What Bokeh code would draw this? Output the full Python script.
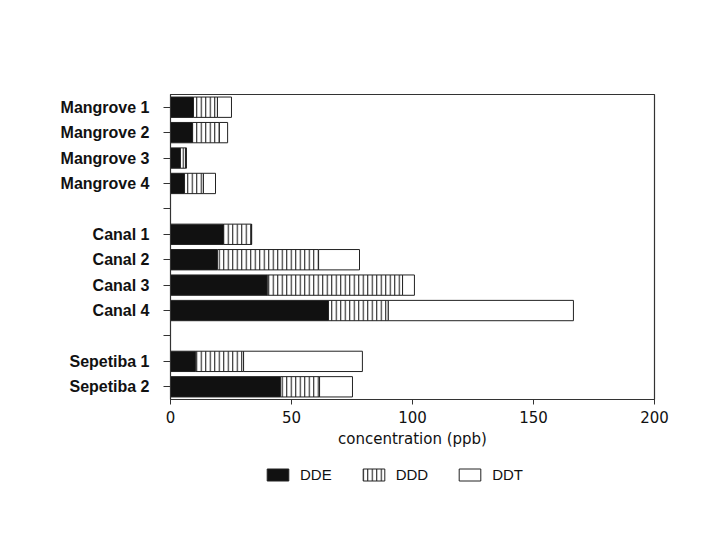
from bokeh.plotting import figure
from bokeh.layouts import column
from bokeh.models import FactorRange, Range1d, ColumnDataSource, FixedTicker, Legend, LegendItem
from bokeh.embed import file_html
from bokeh.resources import INLINE

# ---- data (ppb) ----
sites = ["Mangrove 1", "Mangrove 2", "Mangrove 3", "Mangrove 4",
         "Canal 1", "Canal 2", "Canal 3", "Canal 4",
         "Sepetiba 1", "Sepetiba 2"]
dde = [9.5, 9.1, 4.1, 5.8, 21.9, 19.4, 40.0, 65.3, 10.3, 45.5]
ddd = [9.9, 11.1, 2.1, 7.8, 11.6, 41.8, 55.9, 24.7, 19.9, 16.1]
ddt = [5.8, 3.4, 0.4, 5.0, 0.0, 16.9, 4.9, 76.5, 49.1, 13.6]
# axis order, top to bottom, with blank gap rows between the groups
row_order = ["Mangrove 1", "Mangrove 2", "Mangrove 3", "Mangrove 4", " ",
             "Canal 1", "Canal 2", "Canal 3", "Canal 4", "  ",
             "Sepetiba 1", "Sepetiba 2"]
x_ticks = [0, 50, 100, 150, 200]
series = ["DDE", "DDD", "DDT"]

source = ColumnDataSource(dict(site=sites, DDE=dde, DDD=ddd, DDT=ddt))

bar_style = dict(fill_color=["#111111", "white", "white"],
                 line_color="#222222", line_width=1,
                 hatch_pattern=[" ", "|", " "], hatch_color="#222222",
                 hatch_scale=4.5, hatch_weight=1.1)

p = figure(frame_width=484, frame_height=305,
           output_backend="svg", toolbar_location=None,
           y_range=FactorRange(*list(reversed(row_order)), range_padding=0),
           x_range=Range1d(0, 200),
           min_border_left=170, min_border_right=40, min_border_top=94,
           min_border_bottom=50)

p.hbar_stack(series, y="site", height=0.8, source=source, **bar_style)

p.xgrid.visible = False
p.ygrid.visible = False
p.outline_line_color = "#333333"
p.outline_line_width = 1.2
p.background_fill_color = "white"
p.border_fill_color = "white"

xa = p.xaxis[0]
xa.ticker = FixedTicker(ticks=x_ticks)
xa.axis_label = "concentration (ppb)"
xa.axis_label_text_font = "DejaVu Sans"
xa.axis_label_text_font_style = "normal"
xa.axis_label_text_font_size = "15px"
xa.axis_label_text_color = "#111111"
xa.axis_label_standoff = 4
xa.major_label_text_font = "DejaVu Sans"
xa.major_label_text_font_size = "15px"
xa.major_label_text_color = "#111111"
xa.major_label_standoff = 6
xa.major_tick_in = 0
xa.major_tick_out = 5
xa.minor_tick_line_color = None
xa.axis_line_color = "#333333"
xa.major_tick_line_color = "#333333"

ya = p.yaxis[0]
ya.major_label_text_font = "Liberation Sans"
ya.major_label_text_font_style = "bold"
ya.major_label_text_font_size = "16px"
ya.major_label_text_color = "#111111"
ya.major_label_standoff = 14
ya.major_tick_in = 0
ya.major_tick_out = 7
ya.axis_line_color = "#333333"
ya.major_tick_line_color = "#333333"

# ---- legend strip below the chart ----
lf = figure(width=694, height=60, output_backend="svg", toolbar_location=None,
            x_range=p.x_range, y_range=p.y_range,
            x_axis_location=None, y_axis_location=None,
            min_border=0, min_border_left=0, min_border_right=0,
            min_border_top=0, min_border_bottom=0)
lf.xgrid.visible = False
lf.ygrid.visible = False
lf.outline_line_color = None
lf.background_fill_color = "white"
lf.border_fill_color = "white"
leg_renderers = lf.hbar_stack(series, y="site", height=0.8, source=source, **bar_style)
for r in leg_renderers:
    r.visible = False

leg = Legend(items=[LegendItem(label=s, renderers=[r]) for s, r in zip(series, leg_renderers)],
             orientation="horizontal", location=(94, 27),
             border_line_color=None, background_fill_alpha=0,
             inactive_fill_alpha=0,
             glyph_width=27, glyph_height=15, label_standoff=9, spacing=28,
             padding=10, margin=0,
             label_text_font="Liberation Sans", label_text_font_size="15px",
             label_text_color="#111111")
lf.add_layout(leg, "center")

layout = column(p, lf, spacing=0)
open("out.html", "w").write(file_html(layout, INLINE))
